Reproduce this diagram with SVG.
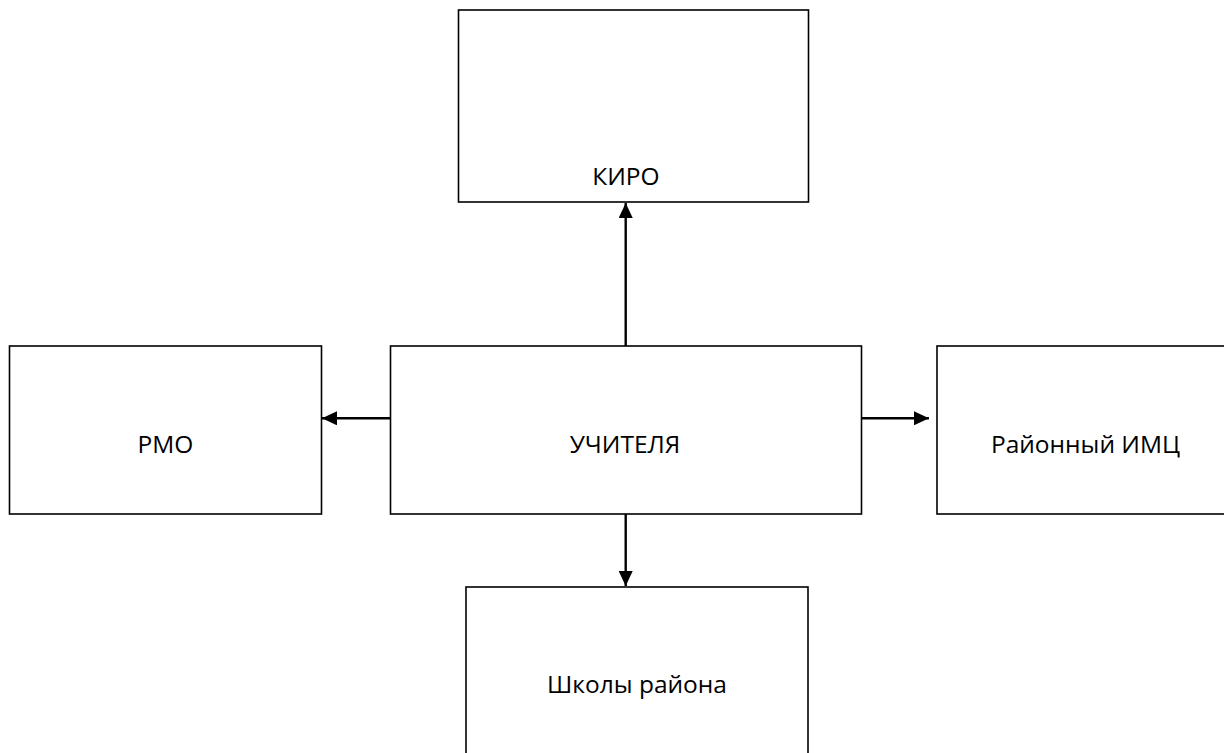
<svg xmlns="http://www.w3.org/2000/svg" width="1224" height="753" viewBox="0 0 1224 753">
<style>
.box{fill:#fff;stroke:#000;stroke-width:1.6}
.lbl{font-family:"Open Sans","Liberation Sans",sans-serif;font-size:24.5px;fill:#000;text-anchor:middle}
.con{stroke:#000;stroke-width:2.4;fill:none}
</style>
<defs>
<marker id="ah" viewBox="0 0 15 14" refX="15" refY="7" markerWidth="15" markerHeight="14" markerUnits="userSpaceOnUse" orient="auto">
<path d="M0,0 L15,7 L0,14 z" fill="#000"/>
</marker>
</defs>
<rect width="1224" height="753" fill="#fff"/>
<g id="kiro"><rect class="box" x="458.5" y="10" width="350" height="192"/><text class="lbl" x="626" y="185">КИРО</text></g>
<g id="teachers"><rect class="box" x="390.5" y="346" width="471" height="168"/><text class="lbl" x="625" y="453">УЧИТЕЛЯ</text></g>
<g id="rmo"><rect class="box" x="9.5" y="346" width="312" height="168"/><text class="lbl" x="165.5" y="453">РМО</text></g>
<g id="imc"><rect class="box" x="937" y="346" width="300" height="168"/><text class="lbl" x="1085.5" y="453">Районный ИМЦ</text></g>
<g id="schools"><rect class="box" x="466" y="587" width="342" height="180"/><text class="lbl" x="637" y="693">Школы района</text></g>
<g id="connectors">
<line class="con" x1="625.7" y1="346" x2="625.7" y2="203" marker-end="url(#ah)"/>
<line class="con" x1="390.5" y1="418.3" x2="322" y2="418.3" marker-end="url(#ah)"/>
<line class="con" x1="861.5" y1="418.3" x2="929" y2="418.3" marker-end="url(#ah)"/>
<line class="con" x1="625.7" y1="514" x2="625.7" y2="586" marker-end="url(#ah)"/>
</g>
</svg>
